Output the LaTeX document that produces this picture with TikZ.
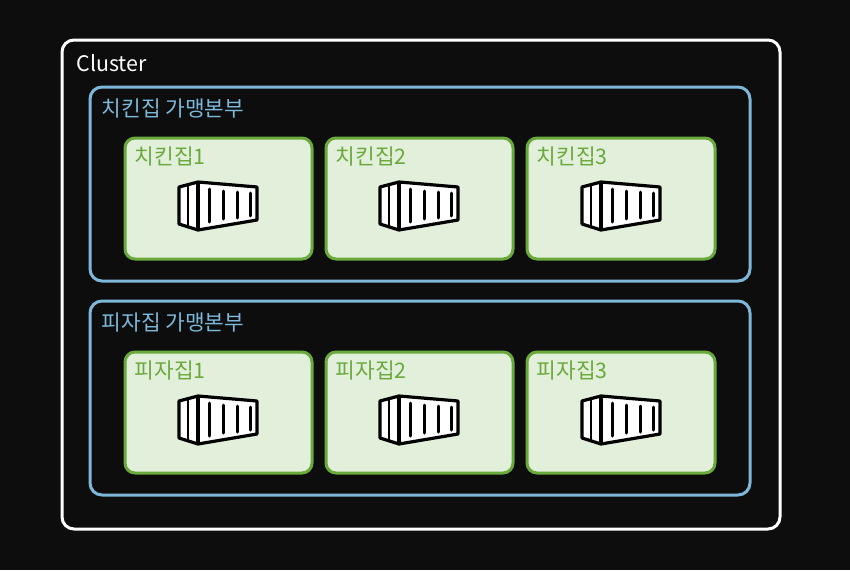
\documentclass[tikz,border=0pt]{standalone}
\usepackage{fontspec}
\newfontfamily\cjk{Noto Sans CJK KR}
\usetikzlibrary{positioning, calc}
\definecolor{bgdark}{HTML}{0D0D0D}
\definecolor{hqblue}{HTML}{7DB8DA}
\definecolor{storegreen}{HTML}{6AA93C}
\definecolor{storefill}{HTML}{E2EFDA}
\tikzset{
  box/.style={rectangle, rounded corners=12pt, inner sep=0pt, outer sep=0pt, anchor=north west},
  clusterbox/.style={box, draw=white, line width=3pt, fill=bgdark, minimum width=718pt, minimum height=489pt},
  hqbox/.style={box, draw=hqblue, line width=3pt, fill=bgdark, minimum width=660pt, minimum height=194pt},
  storebox/.style={box, rounded corners=10pt, draw=storegreen, line width=3pt, fill=storefill, minimum height=121pt},
  lbl/.style={anchor=north west, inner sep=0pt, font=\cjk\fontsize{21.4}{25}\selectfont},
  container/.pic={
    \draw[black, line width=3.2pt, fill=white, line join=round]
      (0,6) -- (19,1) -- (78,6) -- (78,39) -- (19,49) -- (0,43) -- cycle;
    \draw[black, line width=3.2pt] (19,1) -- (19,49);
    \draw[black, line width=2.2pt] (9,4) -- (9,46);
    \foreach \x/\a/\b in {30/8/41, 44/10/38, 58/11/37, 71/12/35} {
      \draw[black, line width=3pt, line cap=round] (\x,\a) -- (\x,\b);
    }
  }
}
\begin{document}
\begin{tikzpicture}[x=1pt, y=-1pt]
\fill[bgdark] (0,0) rectangle (850,570);
% Outer box
\node[clusterbox] (cluster) at (62,40) {};
\node[lbl, white] (clusterlbl) at (76.5,54) {Cluster};
% Two head offices
\node[hqbox] (chickenhq) at (90,87) {};
\node[hqbox] (pizzahq) at (90,301) {};
\node[lbl, hqblue] (chickenlbl) at (101.5,99) {치킨집 가맹본부};
\node[lbl, hqblue] (pizzalbl) at (101.5,313) {피자집 가맹본부};
% Stores
\foreach \n/\x/\w/\i in {1/125/187/54, 2/326/187/54, 3/527/188/55} {
  \node[storebox, minimum width=\w pt] (chicken\n) at (\x,138) {};
  \node[lbl, storegreen] (chicken\n lbl) at (\x+9.5,147) {치킨집\n};
  \pic at ([shift={(\i,43)}]chicken\n.north west) {container};
  \node[storebox, minimum width=\w pt] (pizza\n) at (\x,352) {};
  \node[lbl, storegreen] (pizza\n lbl) at (\x+9.5,361) {피자집\n};
  \pic at ([shift={(\i,43)}]pizza\n.north west) {container};
}
\end{tikzpicture}
\end{document}
